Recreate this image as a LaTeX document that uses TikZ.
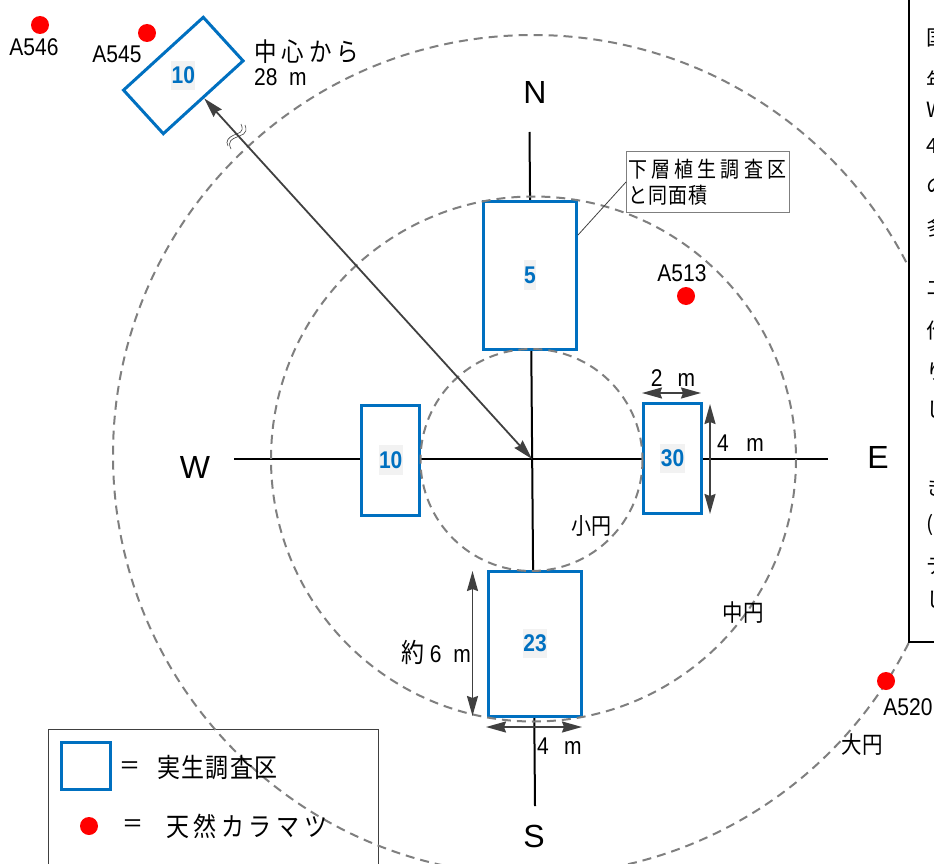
\documentclass[tikz,border=0pt]{standalone}
\usepackage{fontspec}
\setmainfont{Liberation Sans}
\newfontfamily\jp{Noto Sans CJK JP}
\newfontfamily\jpa[LetterSpace=6]{Noto Sans CJK JP}
\newfontfamily\jpb[LetterSpace=20]{Noto Sans CJK JP}
\newfontfamily\jpc[LetterSpace=22]{Noto Sans CJK JP}
\usetikzlibrary{arrows.meta}
\definecolor{plotblue}{HTML}{0070C0}
\definecolor{arrowgray}{HTML}{404040}
\definecolor{dashgray}{HTML}{7F7F7F}
\definecolor{numbg}{HTML}{F2F2F2}
\tikzset{
 plot/.style={draw=plotblue,line width=3pt,fill=white,inner sep=0pt,minimum width=0pt},
 circ/.style={draw=dashgray,line width=2pt,dash pattern=on 9pt off 6pt},
 axis/.style={draw=black,line width=2pt},
 dim/.style={draw=arrowgray,line width=1.8pt,{Stealth[length=20pt,width=11pt,inset=2pt]}-{Stealth[length=20pt,width=11pt,inset=2pt]}},
 num/.style={font=\fontsize{21}{21}\selectfont\bfseries,text=plotblue,fill=numbg,inner xsep=0.5pt,inner ysep=0pt,minimum height=26pt,yscale=1.15,transform shape},
 tree/.style={circle,fill=red,draw=none,minimum size=18pt,inner sep=0pt},
 lab/.style={font=\fontsize{21}{22}\selectfont,inner sep=0pt,text=black,yscale=1.15,transform shape},
 dir/.style={font=\fontsize{32}{32}\selectfont,inner sep=0pt,text=black},
 panel/.style={font=\jp\fontsize{21}{21}\selectfont,inner sep=0pt,anchor=west},
}
\begin{document}
\begin{tikzpicture}[x=1pt,y=-1pt]
\useasboundingbox (0,0) rectangle (934,864);
\clip (0,0) rectangle (934,864);
% legend
\node[draw=arrowgray,line width=1pt,fill=white,minimum width=330pt,minimum height=160pt,inner sep=0pt,anchor=north west] (legend) at (48,729) {};
% axes
\coordinate (cen) at (532,459);
\coordinate (wend) at (234,459);
\coordinate (eend) at (828,459);
\coordinate (nend) at (529.5,132);
\coordinate (send) at (535,806);
\draw[axis] (wend) -- (eend);
\draw[axis] (nend) -- (send);
% plots
\node[plot,minimum width=93pt,minimum height=148pt] (pn) at (530,275) {};
\node[plot,minimum width=58pt,minimum height=110pt] (pw) at (390.7,460.3) {};
\node[plot,minimum width=58pt,minimum height=110pt] (pe) at (672.5,458.5) {};
\node[plot,minimum width=93pt,minimum height=145pt] (ps) at (535,643.5) {};
\node[plot,minimum width=59pt,minimum height=108pt,rotate=-47.6] (pr) at (183.3,75.5) {};
% circles
\draw[circ] (531.5,460) circle[radius=111];
\draw[circ] (533.5,459) circle[radius=262.5];
\draw[circ] (533,455) circle[radius=420];
% numbers
\node[num] at (pn) {5};
\node[num] at (pw) {10};
\node[num] at (pe) {30};
\node[num] at (ps) {23};
\node[num] at (pr) {10};
% long arrow
\draw[dim] (pr.east) -- (cen);
% break mark
\draw[draw=arrowgray,line width=0.6pt] (245,125) .. controls (249,135) and (240,135) .. (237,137) .. controls (232,139) and (227,141) .. (231,149);
\draw[draw=arrowgray,line width=0.6pt] (241,124) .. controls (245,133) and (238,133) .. (234,135) .. controls (229,137) and (225,141) .. (228,146);
% dimension arrows
\coordinate (d2a) at (642,393); \coordinate (d2b) at (701,393);
\coordinate (d4a) at (710,404); \coordinate (d4b) at (710,514);
\coordinate (d6a) at (472.5,571); \coordinate (d6b) at (472.5,716);
\coordinate (d8a) at (486,727); \coordinate (d8b) at (582,727);
\draw[dim] (d2a) -- (d2b);
\draw[dim] (d4a) -- (d4b);
\draw[dim] (d6a) -- (d6b);
\draw[dim] (d8a) -- (d8b);
% callout
\node[draw=dashgray,line width=1pt,fill=white,minimum width=163pt,minimum height=61pt,inner sep=0pt,anchor=north west] (call) at (626,151) {};
\node[lab,anchor=west,font=\jpc\fontsize{19}{19}\selectfont] at (628,169) {下層植生調査区};
\node[lab,anchor=west,font=\jpa\fontsize{19}{19}\selectfont] at (628,195) {と同面積};
\draw[draw=arrowgray,line width=0.8pt] (pn.east) ++(0,-40) -- (call.west);
% trees
\node[tree] (t546) at (40,25) {};
\node[tree] (t545) at (147,33) {};
\node[tree] (t513) at (686,296) {};
\node[tree] (t520) at (886,681) {};
\node[tree] (t0) at (89,826) {};
% tree labels
\node[lab] at (34,47) {A546};
\node[lab] at (117,54) {A545};
\node[lab] at (682,273) {A513};
\node[lab] at (908,707) {A520};
% directions
\node[dir] at (535,92) {N};
\node[dir] at (195,467) {W};
\node[dir] at (878,457) {E};
\node[dir] at (534,836) {S};
% measures
\node[lab,anchor=west,font=\jpc\fontsize{22.5}{23}\selectfont] at (254,52) {中心から};
\node[lab,anchor=west] at (254,77) {28\ \ m};
\node[lab] at (673,378) {2\ \ \,m};
\node[lab,anchor=west] at (717,443) {4\ \ \ m};
\node[lab,anchor=west] at (537,746) {4\ \ \,m};
\node[lab,anchor=east] at (471,652) {{\jp\fontsize{23}{23}\selectfont 約}\ 6\ \ m};
\node[lab,font=\jp\fontsize{20}{20}\selectfont] at (591,526) {小円};
\node[lab,font=\jp\fontsize{20.5}{20}\selectfont] at (743,613) {中円};
\node[lab,font=\jp\fontsize{20.5}{20}\selectfont] at (862,745) {大円};
% legend contents
\node[draw=plotblue,line width=3pt,fill=white,minimum width=49pt,minimum height=47pt,inner sep=0pt] (lsq) at (86,766) {};
\node[lab,font=\jp\fontsize{21}{21}\selectfont] at (130,768) {＝};
\node[lab,anchor=west,font=\jpa\fontsize{23}{23}\selectfont] at (157,768) {実生調査区};
\node[lab,font=\jp\fontsize{21}{21}\selectfont] at (133,826) {＝};
\node[lab,anchor=west,font=\jpb\fontsize{23}{23}\selectfont] at (166,826) {天然カラマツ};
% right panel
\node[draw=black,line width=2pt,fill=white,minimum width=60pt,minimum height=670pt,inner sep=0pt,anchor=south west] (panel) at (908,643) {};
\begin{scope}
\clip (910,0) rectangle (934,642);
\node[panel] at (926,38) {国};
\node[panel] at (926,80) {年};
\node[panel] at (926,110) {W};
\node[panel] at (926,146) {4};
\node[panel] at (926,186) {の};
\node[panel] at (926,228) {多};
\node[panel] at (926,288) {エ};
\node[panel] at (926,331) {作};
\node[panel] at (926,372) {り};
\node[panel] at (926,410) {し};
\node[panel] at (926,488) {き};
\node[panel] at (926,525) {(};
\node[panel] at (926,565) {デ};
\node[panel] at (926,600) {し};
\end{scope}
\end{tikzpicture}
\end{document}
